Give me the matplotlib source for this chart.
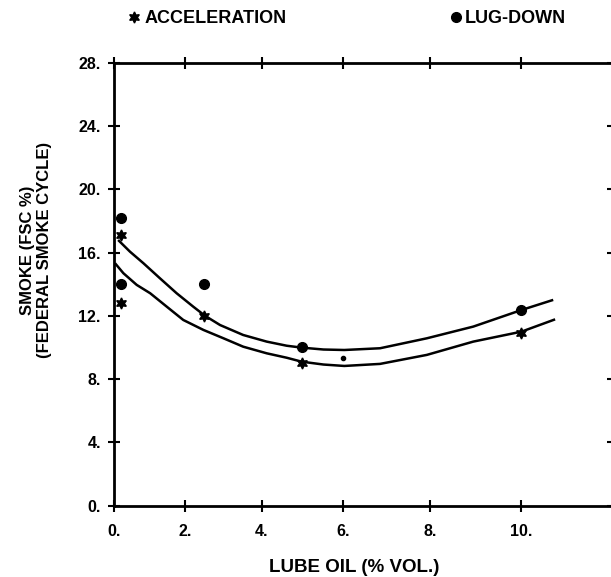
import numpy as np
import matplotlib
matplotlib.use("Agg")
import matplotlib.pyplot as plt
from matplotlib.lines import Line2D

# ---- data ----
lug_x = [0.2, 0.2, 2.5, 5.0, 10.0]
lug_y = [18.2, 14.0, 14.0, 10.0, 12.4]

acc_x = [0.2, 0.2, 2.5, 5.0, 10.0]
acc_y = [17.1, 12.8, 12.0, 9.0, 10.9]

stray_x = [6.0]
stray_y = [9.36]

# fitted curves
lug_fit_x = [0.12, 0.46, 0.84, 1.30, 1.76, 2.21, 2.52, 2.92, 3.52, 4.12, 4.62, 4.99,
             5.52, 6.02, 6.86, 7.93, 8.96, 10.0, 10.67]
lug_fit_y = [16.80, 16.06, 15.33, 14.38, 13.43, 12.58, 12.01, 11.42, 10.79, 10.37, 10.11, 9.99,
             9.87, 9.84, 9.95, 10.58, 11.32, 12.37, 13.01]

acc_fit_x = [0.03, 0.27, 0.65, 1.03, 1.49, 1.94, 2.48, 3.01, 3.52, 4.12, 4.62, 4.99,
             5.52, 6.02, 6.86, 7.93, 8.96, 10.0, 10.71]
acc_fit_y = [15.33, 14.70, 13.96, 13.43, 12.58, 11.74, 11.11, 10.58, 10.05, 9.63, 9.35, 9.10,
             8.92, 8.83, 8.96, 9.53, 10.37, 11.0, 11.78]

x_ticks = [0, 2, 4, 6, 8, 10]
x_tick_labels = ["0.", "2.", "4.", "6.", "8.", "10."]
y_ticks = [0, 4, 8, 12, 16, 20, 24, 28]
y_tick_labels = ["0.", "4.", "8.", "12.", "16.", "20.", "24.", "28."]

# ---- non-uniform x scale of the original plot ----
C = 0.01812

def fwd(x):
    x = np.asarray(x, dtype=float)
    return x + C * x ** 2

def inv(f):
    f = np.asarray(f, dtype=float)
    return (-1.0 + np.sqrt(np.clip(1.0 + 4 * C * f, 0, None))) / (2 * C)

plt.rcParams['font.family'] = ['Liberation Sans', 'DejaVu Sans']
plt.rcParams['font.weight'] = 'bold'

W, H = 611, 577
fig = plt.figure(figsize=(W / 100, H / 100), dpi=100)
left, right, top, bottom = 114, 613, 63, 505.5
ax = fig.add_axes([left / W, (H - bottom) / H, (right - left) / W, (bottom - top) / H])

ax.set_xscale('function', functions=(fwd, inv))
ax.set_xlim(0, 11.9)
ax.set_ylim(0, 28)

ax.plot(lug_fit_x, lug_fit_y, color='black', lw=1.8, solid_capstyle='butt', solid_joinstyle='round')
ax.plot(acc_fit_x, acc_fit_y, color='black', lw=1.8, solid_capstyle='butt', solid_joinstyle='round')

ax.plot(lug_x, lug_y, 'o', color='black', ms=7, clip_on=False)
ax.plot(acc_x, acc_y, marker=(6, 1, 0), ls='none', color='black', ms=8, clip_on=False)
ax.plot(stray_x, stray_y, 'o', color='black', ms=3)

ax.set_xticks(x_ticks, x_tick_labels)
ax.set_yticks(y_ticks, y_tick_labels)
ax.minorticks_off()
ax.tick_params(axis='both', which='major', direction='inout', length=9, width=1.5,
               top=True, right=True, labelsize=11.5)
ax.tick_params(axis='x', pad=9)
ax.tick_params(axis='y', pad=5)
for lab in ax.get_xticklabels() + ax.get_yticklabels():
    lab.set_fontweight('bold')
for sp in ax.spines.values():
    sp.set_linewidth(2.0)

ax.set_xlabel("LUBE OIL (% VOL.)", fontsize=13.5, fontweight='bold')
ax.xaxis.set_label_coords((354 - left) / (right - left), (bottom - 568) / (bottom - top))
ax.xaxis.label.set_va('center')

ax.set_ylabel("SMOKE (FSC %)\n(FEDERAL SMOKE CYCLE)", fontsize=12, fontweight='bold',
              linespacing=1.1, multialignment='center')
ax.yaxis.set_label_coords((36 - left) / (right - left), (bottom - 250) / (bottom - top))
ax.yaxis.label.set_va('center')

# legends
fs = 13
h_acc = Line2D([], [], marker=(6, 1, 0), ls='none', color='black', ms=8)
h_lug = Line2D([], [], marker='o', ls='none', color='black', ms=7)
hl = 0.8
hw_px = hl * fs * 100 / 72
leg1 = fig.legend([h_acc], ["ACCELERATION"], loc='center left',
                  bbox_to_anchor=((125 - hw_px / 2) / W, 1 - 18.5 / H),
                  frameon=False, borderpad=0, handlelength=hl, handletextpad=0.2,
                  prop={'size': fs, 'weight': 'bold'})
leg2 = fig.legend([h_lug], ["LUG-DOWN"], loc='center left',
                  bbox_to_anchor=((447 - hw_px / 2) / W, 1 - 18.5 / H),
                  frameon=False, borderpad=0, handlelength=hl, handletextpad=0.1,
                  prop={'size': fs, 'weight': 'bold'})

fig.savefig("out.png", dpi=100)
